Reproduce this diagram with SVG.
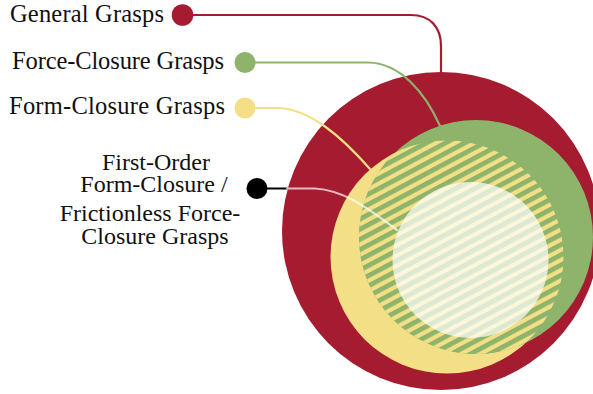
<svg xmlns="http://www.w3.org/2000/svg" width="593" height="394" viewBox="0 0 593 394">
  <style>
    .label { font-family: "Liberation Serif", "DejaVu Serif", serif; font-size: 24px; fill: #111; }
    .big { font-size: 24.5px; }
    .mid { text-anchor: middle; }
    .wire { fill: none; stroke-width: 2.2; stroke-linecap: round; }
  </style>
  <defs>
    <!-- diagonal stripes for the overlap of force- and form-closure -->
    <pattern id="stripes" width="10" height="9" patternUnits="userSpaceOnUse" patternTransform="rotate(-28)">
      <rect width="10" height="9" fill="#f3df85"/>
      <rect width="10" height="4.8" fill="#8db46a"/>
    </pattern>
    <clipPath id="formClip">
      <circle cx="447" cy="257" r="116.5"/>
    </clipPath>
  </defs>

  <g id="general-grasps-set">
    <circle cx="441" cy="231" r="159" fill="#a51c30"/>
  </g>
  <g id="form-closure-set">
    <circle cx="447" cy="257" r="116.5" fill="#f3df85"/>
  </g>
  <g id="force-closure-set">
    <circle cx="476" cy="237" r="117" fill="#8db46a"/>
    <circle cx="476" cy="237" r="117" fill="url(#stripes)" clip-path="url(#formClip)"/>
  </g>
  <g id="first-order-set">
    <circle cx="470.5" cy="260" r="78" fill="#ffffff" fill-opacity="0.7"/>
  </g>

  <g id="connectors">
    <path class="wire" stroke="#a51c30" d="M183,15 H411 C430,15 441,27 441,46 V73"/>
    <path class="wire" stroke="#8db46a" d="M245,62.5 H368 C400,63 425,92 440,126"/>
    <path class="wire" stroke="#f3df85" d="M245,108 H280 C310,110 340,135 370,169"/>
    <path class="wire" stroke="#000000" d="M257,188.5 H287"/>
    <path class="wire" stroke="#ffffff" stroke-opacity="0.7" d="M287,188.5 H315 C345,190 370,210 397,230"/>
  </g>

  <g id="general-grasps">
    <circle cx="182.5" cy="15" r="10.8" fill="#a51c30"/>
    <text class="label big" x="10" y="21.5" textLength="154" lengthAdjust="spacing">General Grasps</text>
  </g>
  <g id="force-closure-grasps">
    <circle cx="245" cy="62.5" r="10.5" fill="#8db46a"/>
    <text class="label big" x="12" y="68.5" textLength="212" lengthAdjust="spacing">Force-Closure Grasps</text>
  </g>
  <g id="form-closure-grasps">
    <circle cx="245" cy="108" r="10.5" fill="#f3df85"/>
    <text class="label big" x="9" y="113.5" textLength="216" lengthAdjust="spacing">Form-Closure Grasps</text>
  </g>
  <g id="first-order-grasps">
    <circle cx="257" cy="188.5" r="10.5" fill="#000000"/>
    <text class="label mid" x="156" y="169.5">First-Order</text>
    <text class="label mid" x="154" y="191.5">Form-Closure /</text>
    <text class="label mid" x="150" y="220.5">Frictionless Force-</text>
    <text class="label mid" x="155" y="243.5">Closure Grasps</text>
  </g>
</svg>
